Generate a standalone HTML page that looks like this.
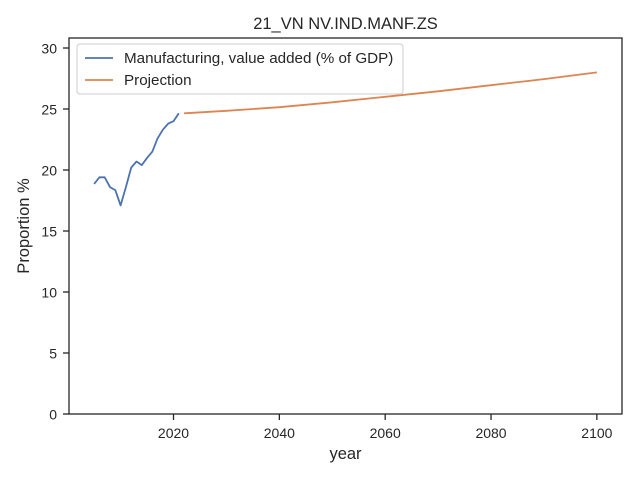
<!DOCTYPE html>
<html><head><meta charset="utf-8"><style>
body{margin:0;background:#fff;font-family:"Liberation Sans","DejaVu Sans",sans-serif;}
text{font-family:"Liberation Sans","DejaVu Sans",sans-serif;fill:#262626;}
</style></head><body>
<svg id="chart" width="640" height="480" xmlns="http://www.w3.org/2000/svg">
<rect x="0" y="0" width="640" height="480" fill="#fff"/>
<text x="345.5" y="29" font-size="16.5" text-anchor="middle">21_VN NV.IND.MANF.ZS</text>
<g id="axes"></g>
<g id="series"></g>
<rect x="69" y="38" width="553" height="376" fill="none" stroke="#262626" stroke-width="1.3"/>
<g>
<rect x="77" y="44" width="326" height="50" rx="3" fill="#fff" fill-opacity="0.8" stroke="#ccc"/>
<line x1="85" y1="58" x2="113" y2="58" stroke="#4c72b0" stroke-width="1.8"/>
<text x="124" y="63" font-size="15.2">Manufacturing, value added (% of GDP)</text>
<line x1="85" y1="80" x2="113" y2="80" stroke="#dd8452" stroke-width="1.8"/>
<text x="124" y="85" font-size="15.2">Projection</text>
</g>
<text x="345.5" y="459" font-size="16.5" text-anchor="middle">year</text>
<text x="0" y="0" font-size="16.5" text-anchor="middle" transform="translate(29,226) rotate(-90)">Proportion %</text>
</svg>
<script>
const actualYears=[2005,2006,2007,2008,2009,2010,2011,2012,2013,2014,2015,2016,2017,2018,2019,2020,2021];
const actualValues=[18.85,19.4,19.4,18.6,18.35,17.1,18.6,20.2,20.7,20.4,21.0,21.5,22.6,23.3,23.8,24.0,24.65];
const projYears=[2022,2030,2040,2050,2060,2070,2080,2090,2100];
const projValues=[24.65,24.85,25.15,25.55,26.0,26.45,26.95,27.45,28.0];
const xTicks=[2020,2040,2060,2080,2100];
const yTicks=[0,5,10,15,20,25,30];
const X0=69,X1=622,Y0=414,Y1=38,xmin=2000.25,xmax=2104.75,ymin=0,ymax=30.82;
const sx=v=>X0+(v-xmin)/(xmax-xmin)*(X1-X0);
const sy=v=>Y0-(v-ymin)/(ymax-ymin)*(Y0-Y1);
const NS="http://www.w3.org/2000/svg";
const axes=document.getElementById('axes'),series=document.getElementById('series');
function mk(t,a,p){const e=document.createElementNS(NS,t);for(const k in a)e.setAttribute(k,a[k]);p.appendChild(e);return e;}
xTicks.forEach(t=>{const x=sx(t);
const l=mk('line',{x1:x,x2:x,y1:Y0,y2:Y0+6,stroke:'#262626','stroke-width':1.3},axes);


const tx=mk('text',{x:x,y:Y0+24,'font-size':14,'text-anchor':'middle'},axes);tx.textContent=t;

});
yTicks.forEach(t=>{const y=sy(t);
const l=mk('line',{x1:X0-6,x2:X0,y1:y,y2:y,stroke:'#262626','stroke-width':1.3},axes);


const tx=mk('text',{x:X0-12,y:y+5.5,'font-size':14,'text-anchor':'end'},axes);tx.textContent=t;

});
function line(xs,ys,c,name){
const d=xs.map((v,i)=>(i?'L':'M')+sx(v).toFixed(1)+','+sy(ys[i]).toFixed(1)).join('');
const p=mk('path',{d:d,fill:'none',stroke:c,'stroke-width':1.8,'stroke-linejoin':'round'},series);

}
line(actualYears,actualValues,'#4c72b0','actual-line');
line(projYears,projValues,'#dd8452','projection-line');
</script>
</body></html>
